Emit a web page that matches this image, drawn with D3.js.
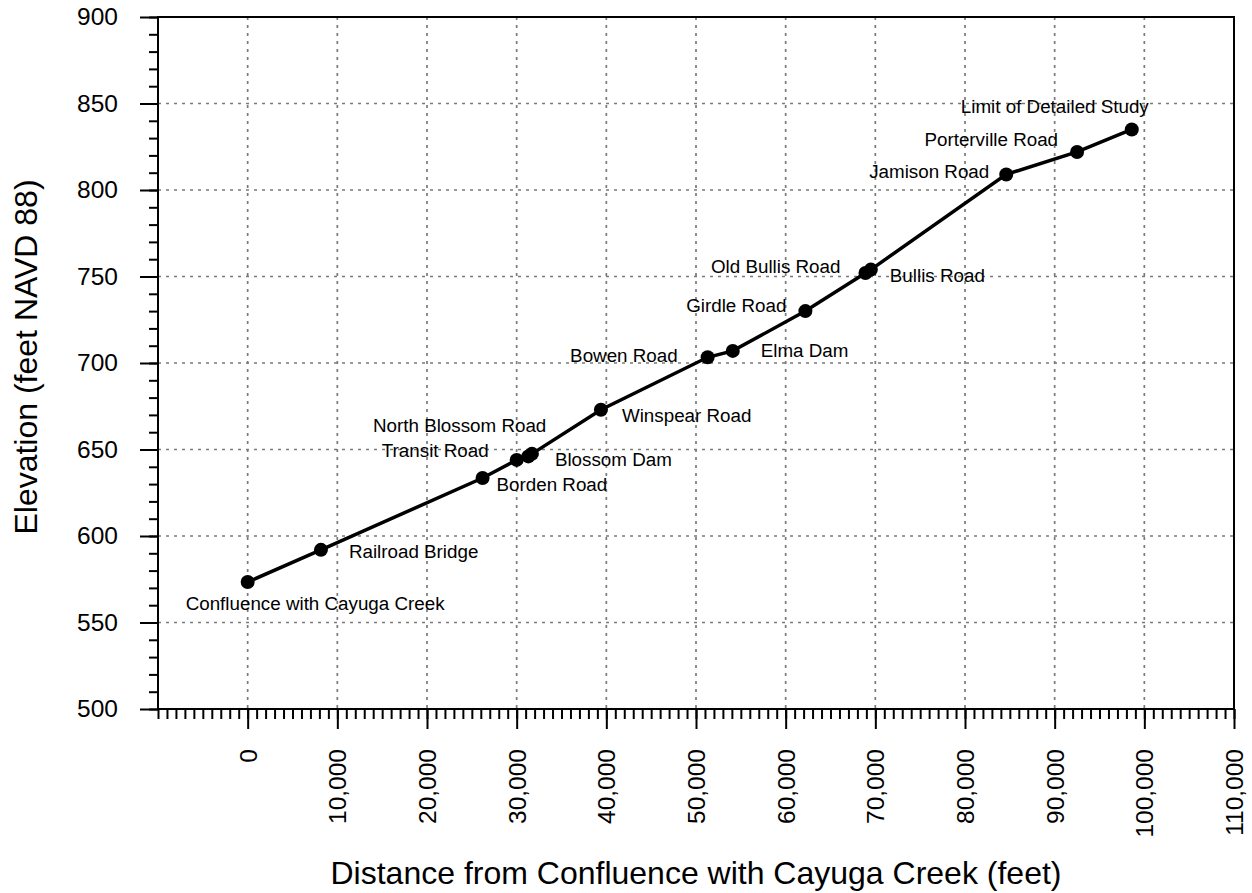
<!DOCTYPE html>
<html>
<head>
<meta charset="utf-8">
<script src="https://cdn.jsdelivr.net/npm/d3@7"></script>
<style>
  body { margin: 0; background: #fff; }
  svg text { font-family: Arial, "Liberation Sans", sans-serif; fill: #000; }
  .grid line { stroke: #7a7a7a; stroke-width: 1.7; stroke-dasharray: 3,5; }
  .axis path { display: none; }
  .axis line { stroke: #000; stroke-width: 2; }
</style>
</head>
<body>
<svg id="chart" width="1252" height="893"></svg>
<script>
// Profile points, upstream order
var names = [
  'Confluence with Cayuga Creek', 'Railroad Bridge', 'Borden Road', 'Transit Road',
  'North Blossom Road', 'Blossom Dam', 'Winspear Road', 'Bowen Road', 'Elma Dam',
  'Girdle Road', 'Old Bullis Road', 'Bullis Road', 'Jamison Road', 'Porterville Road',
  'Limit of Detailed Study'
]
var distance = [0, 8170, 26200, 30000, 31300, 31700, 39400, 51300, 54100, 62200, 68900, 69500, 84600, 92500, 98600]
var elevation = [573.4, 592, 633.5, 644, 646, 647.5, 673, 703.3, 707, 730, 752, 754, 809, 822, 835]

var xTicks = [0, 10000, 20000, 30000, 40000, 50000, 60000, 70000, 80000, 90000, 100000, 110000]
var yTicks = [500, 550, 600, 650, 700, 750, 800, 850, 900]

// where each label sits relative to its point: [anchor, dx, dy]
var labelPlace = {
  'Confluence with Cayuga Creek': ['start', -62, 28],
  'Railroad Bridge': ['start', 28, 8],
  'Borden Road': ['start', 14, 13],
  'Transit Road': ['end', -28, -3],
  'North Blossom Road': ['end', 18, -24],
  'Blossom Dam': ['start', 23, 12],
  'Winspear Road': ['start', 21, 12],
  'Bowen Road': ['end', -30, 5],
  'Elma Dam': ['start', 28, 6],
  'Girdle Road': ['end', -19, 1],
  'Old Bullis Road': ['end', -25, 0],
  'Bullis Road': ['start', 19, 12],
  'Jamison Road': ['end', -17, 4],
  'Porterville Road': ['end', -19, -6],
  'Limit of Detailed Study': ['end', 17, -16]
}

var points = names.map(function(n, i) { return {name: n, dist: distance[i], elev: elevation[i]} })

// plot box (don't call it "top", window.top is taken)
var box = {left: 158, right: 1234, top: 17, bottom: 709}
var svg = d3.select('#chart')

var x = d3.scaleLinear().domain([-10000, 110000]).range([box.left, box.right])
var y = d3.scaleLinear().domain([500, 900]).range([box.bottom, box.top])

// grid
var grid = svg.append('g').attr('class', 'grid')
grid.selectAll('line.v').data(xTicks.filter(function(d) { return d < 110000 }))
  .enter().append('line').attr('class', 'v')
  .attr('x1', function(d) { return x(d) }).attr('x2', function(d) { return x(d) })
  .attr('y1', box.top).attr('y2', box.bottom)
grid.selectAll('line.h').data(yTicks.filter(function(d) { return d > 500 && d < 900 }))
  .enter().append('line').attr('class', 'h')
  .attr('x1', box.left).attr('x2', box.right)
  .attr('y1', function(d) { return y(d) }).attr('y2', function(d) { return y(d) })

// minor + major ticks
svg.append('g').attr('class', 'axis').attr('transform', 'translate(0,' + box.bottom + ')')
  .call(d3.axisBottom(x).tickValues(d3.range(-10000, 110001, 1000)).tickSize(10).tickFormat(''))
var xMajor = svg.append('g').attr('class', 'axis').attr('transform', 'translate(0,' + box.bottom + ')')
  .call(d3.axisBottom(x).tickValues(xTicks).tickSize(20).tickFormat(d3.format(',')))
xMajor.selectAll('text')
  .attr('transform', 'translate(0,40) rotate(-90)')
  .attr('x', 0).attr('y', 0).attr('dy', '0.35em')
  .style('text-anchor', 'end')
  .style('font-size', '24.5px')

svg.append('g').attr('class', 'axis').attr('transform', 'translate(' + box.left + ',0)')
  .call(d3.axisLeft(y).tickValues(d3.range(500, 901, 10)).tickSize(9).tickFormat(''))
var yMajor = svg.append('g').attr('class', 'axis').attr('transform', 'translate(' + box.left + ',0)')
  .call(d3.axisLeft(y).tickValues(yTicks).tickSize(18).tickPadding(22))
yMajor.selectAll('text').style('font-size', '24.5px')

// frame
svg.append('rect')
  .attr('x', box.left).attr('y', box.top)
  .attr('width', box.right - box.left).attr('height', box.bottom - box.top)
  .attr('fill', 'none').attr('stroke', '#000').attr('stroke-width', 2)

// profile line
var line = d3.line().x(function(d) { return x(d.dist) }).y(function(d) { return y(d.elev) })
svg.append('path').datum(points)
  .attr('d', line)
  .attr('fill', 'none').attr('stroke', '#000').attr('stroke-width', 3.5)

svg.selectAll('circle.pt').data(points)
  .enter().append('circle').attr('class', 'pt')
  .attr('cx', function(d) { return x(d.dist) })
  .attr('cy', function(d) { return y(d.elev) })
  .attr('r', 7)
  .attr('fill', '#000')

svg.selectAll('text.lbl').data(points)
  .enter().append('text').attr('class', 'lbl')
  .attr('x', function(d) { return x(d.dist) + labelPlace[d.name][1] })
  .attr('y', function(d) { return y(d.elev) + labelPlace[d.name][2] })
  .attr('text-anchor', function(d) { return labelPlace[d.name][0] })
  .style('font-size', '18.8px')
  .text(function(d) { return d.name })

// axis titles
svg.append('text')
  .attr('x', (box.left + box.right) / 2).attr('y', 884)
  .attr('text-anchor', 'middle')
  .style('font-size', '32px')
  .text('Distance from Confluence with Cayuga Creek (feet)')

svg.append('text')
  .attr('transform', 'translate(37,357) rotate(-90)')
  .attr('text-anchor', 'middle')
  .style('font-size', '32px')
  .text('Elevation (feet NAVD 88)')
</script>
</body>
</html>
